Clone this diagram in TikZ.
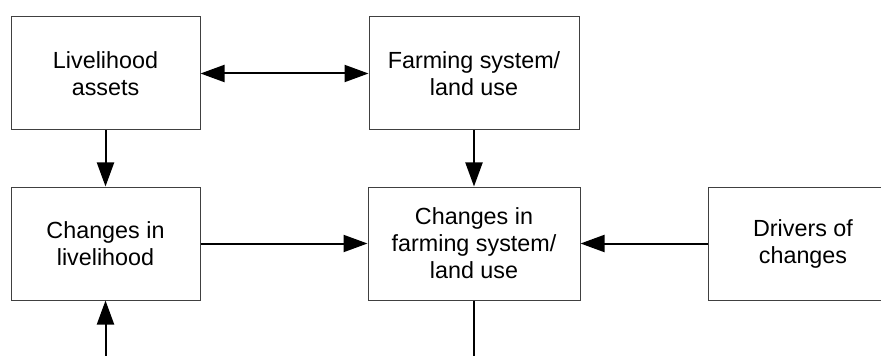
\documentclass[tikz,border=0pt]{standalone}
\usepackage{fontspec}
\setmainfont{Liberation Sans}
\usepackage{tikz}
\usetikzlibrary{arrows.meta, positioning, calc}
\definecolor{boxStroke}{HTML}{404040}
\definecolor{arrowStroke}{HTML}{000000}
\tikzset{
  base/.style={
    rectangle, draw=boxStroke, line width=0.75pt,
    align=center, inner sep=0pt,
    minimum height=84.75pt,
    font=\fontsize{17.5}{20.25}\selectfont
  },
  narrow/.style={base, minimum width=141.75pt},
  wide/.style={base, minimum width=157.5pt},
  link/.style={-{Triangle[length=18pt, width=12.75pt]}, arrowStroke, line width=1.5pt},
  bilink/.style={{Triangle[length=18pt, width=12.75pt]}-{Triangle[length=18pt, width=12.75pt]}, arrowStroke, line width=1.5pt},
}

\begin{document}
\begin{tikzpicture}[x=0.75pt, y=-0.75pt]
    \useasboundingbox (0,0) rectangle (881,356);
    \clip (0,0) rectangle (881,356);

    \node[narrow] (assets) at (105.5,73.5) {Livelihood\\assets};
    \node[wide] (farming) at (474,73.5) {Farming system/\\land use};
    \node[narrow] (chliving) at (105.5,243.5) {Changes in\\livelihood};
    \node[wide, minimum width=159pt] (chfarming) at (474,243.5) {Changes in\\farming system/\\land use};
    \node[narrow, minimum width=142.5pt] (drivers) at (803,243.5) {Drivers of\\changes};

    \coordinate (inlow) at (105.5,362);
    \coordinate (outlow) at (474,362);

    \draw[bilink] (assets) -- (farming);
    \draw[link] (assets) -- (chliving);
    \draw[link] (farming) -- (chfarming);
    \draw[link] (chliving) -- (chfarming);
    \draw[link] (drivers) -- (chfarming);
    \draw[link] (inlow) -- (chliving);
    \draw[arrowStroke, line width=1.5pt] (chfarming) -- (outlow);
\end{tikzpicture}
\end{document}
